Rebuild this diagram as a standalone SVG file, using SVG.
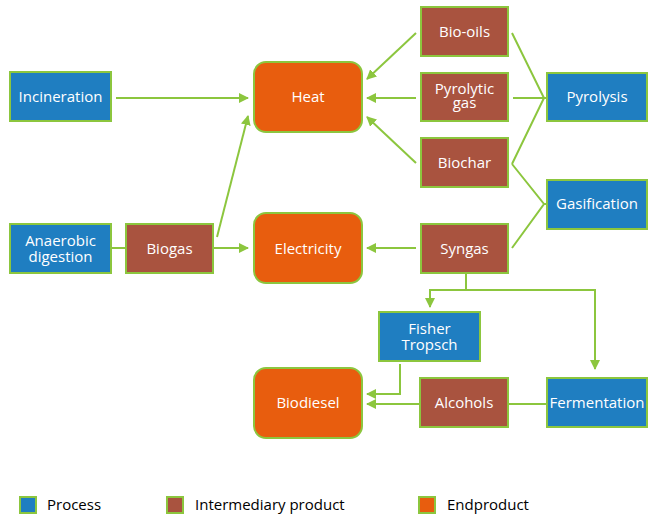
<svg xmlns="http://www.w3.org/2000/svg" width="651" height="518" viewBox="0 0 651 518">
<defs>
<style>
.proc{fill:#1F7EC1;stroke:#8CC63E;stroke-width:2}
.inter{fill:#A9533F;stroke:#8CC63E;stroke-width:2}
.end{fill:#E85D0E;stroke:#8CC63E;stroke-width:2}
.t{font-family:"Open Sans","Liberation Sans",sans-serif;font-size:15px;fill:#FFFFFF;text-anchor:middle}
.lg{font-family:"Open Sans","Liberation Sans",sans-serif;font-size:15px;fill:#000000}
.c{fill:none;stroke:#8CC63E;stroke-width:2}
</style>
<marker id="ah" viewBox="0 0 10 10" refX="9" refY="5" markerWidth="5" markerHeight="5" orient="auto" markerUnits="strokeWidth">
<path d="M0,0 L10,5 L0,10 z" fill="#8CC63E"/>
</marker>
</defs>
<rect width="651" height="518" fill="#FFFFFF"/>
<g id="connectors">
<line class="c" x1="116" y1="98" x2="248" y2="98" marker-end="url(#ah)"/>
<line class="c" x1="217" y1="237" x2="248" y2="116" marker-end="url(#ah)"/>
<line class="c" x1="112" y1="248" x2="126" y2="248"/>
<line class="c" x1="214" y1="248" x2="248" y2="248" marker-end="url(#ah)"/>
<line class="c" x1="416" y1="33" x2="367" y2="79" marker-end="url(#ah)"/>
<line class="c" x1="416" y1="98" x2="367" y2="98" marker-end="url(#ah)"/>
<line class="c" x1="416" y1="163" x2="367" y2="117" marker-end="url(#ah)"/>
<line class="c" x1="416" y1="248" x2="367" y2="248" marker-end="url(#ah)"/>
<polyline class="c" points="512,33 544,98 512,164"/>
<line class="c" x1="513" y1="98" x2="544" y2="98"/>
<polyline class="c" points="512,164 544,204 512,248"/>
<line class="c" x1="544" y1="204" x2="547" y2="204"/>
<line class="c" x1="544" y1="98" x2="547" y2="98"/>
<line class="c" x1="466" y1="274" x2="466" y2="290"/>
<polyline class="c" points="430,307 430,290 595,290 595,369" marker-end="url(#ah)"/>
<line class="c" x1="430" y1="290" x2="430" y2="307" marker-end="url(#ah)"/>
<polyline class="c" points="400,364 400,394 367,394" marker-end="url(#ah)"/>
<line class="c" x1="420" y1="404" x2="367" y2="404" marker-end="url(#ah)"/>
<line class="c" x1="508" y1="404" x2="547" y2="404"/>
</g>
<g id="incineration"><rect class="proc" x="10" y="72" width="101" height="49"/><text class="t" x="60.5" y="102">Incineration</text></g>
<g id="anaerobic"><rect class="proc" x="10" y="224" width="101" height="49"/><text class="t" x="60.5" y="245.5">Anaerobic</text><text class="t" x="60.5" y="261.5">digestion</text></g>
<g id="biogas"><rect class="inter" x="126" y="224" width="87" height="49"/><text class="t" x="169.5" y="253.5">Biogas</text></g>
<g id="heat"><rect class="end" x="254" y="62" width="108" height="70" rx="12"/><text class="t" x="308" y="102">Heat</text></g>
<g id="electricity"><rect class="end" x="254" y="213" width="108" height="70" rx="12"/><text class="t" x="308" y="253.5">Electricity</text></g>
<g id="biodiesel"><rect class="end" x="254" y="368" width="108" height="70" rx="12"/><text class="t" x="308" y="408">Biodiesel</text></g>
<g id="biooils"><rect class="inter" x="421" y="7" width="87" height="49"/><text class="t" x="464.5" y="36.5">Bio-oils</text></g>
<g id="pyrolyticgas"><rect class="inter" x="421" y="73" width="87" height="48"/><text class="t" x="464.5" y="93.5">Pyrolytic</text><text class="t" x="464.5" y="108">gas</text></g>
<g id="biochar"><rect class="inter" x="421" y="138" width="87" height="49"/><text class="t" x="464.5" y="167.5">Biochar</text></g>
<g id="syngas"><rect class="inter" x="421" y="224" width="87" height="49"/><text class="t" x="464.5" y="253.5">Syngas</text></g>
<g id="pyrolysis"><rect class="proc" x="547" y="73" width="100" height="48"/><text class="t" x="597" y="102">Pyrolysis</text></g>
<g id="gasification"><rect class="proc" x="547" y="180" width="100" height="49"/><text class="t" x="597" y="209">Gasification</text></g>
<g id="fishertropsch"><rect class="proc" x="379" y="312" width="101" height="49"/><text class="t" x="429.5" y="334">Fisher</text><text class="t" x="429.5" y="350">Tropsch</text></g>
<g id="alcohols"><rect class="inter" x="420" y="378" width="88" height="49"/><text class="t" x="464" y="407.5">Alcohols</text></g>
<g id="fermentation"><rect class="proc" x="547" y="378" width="100" height="49"/><text class="t" x="597" y="407.5">Fermentation</text></g>
<g id="legend">
<rect class="proc" x="20" y="497" width="16" height="16"/><text class="lg" x="47" y="510">Process</text>
<rect class="inter" x="167" y="497" width="16" height="16"/><text class="lg" x="195" y="510">Intermediary product</text>
<rect class="end" x="419" y="497" width="16" height="16"/><text class="lg" x="447" y="510">Endproduct</text>
</g>
</svg>
